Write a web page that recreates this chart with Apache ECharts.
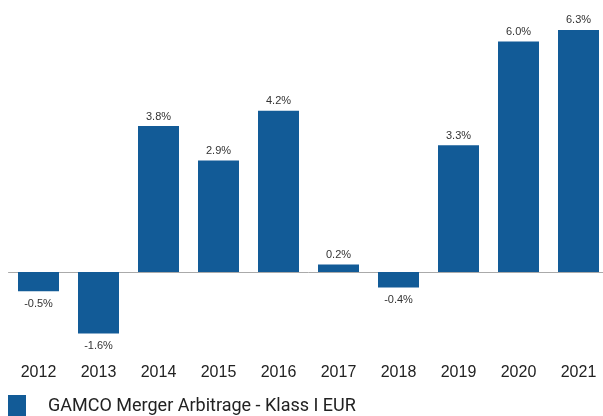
<!DOCTYPE html>
<html>
<head>
<meta charset="utf-8">
<script src="https://cdn.jsdelivr.net/npm/echarts@6/dist/echarts.min.js"></script>
<style>
	html, body { margin: 0; padding: 0; background: #fff; overflow: hidden; }
	#main { width: 612px; height: 416px; }
</style>
</head>
<body>
<div id="main"></div>
<script>
var years = ['2012', '2013', '2014', '2015', '2016', '2017', '2018', '2019', '2020', '2021'];
var returns = [-0.5, -1.6, 3.8, 2.9, 4.2, 0.2, -0.4, 3.3, 6.0, 6.3];
var seriesName = 'GAMCO Merger Arbitrage - Klass I EUR';

(function(){
	//图表比窗口略宽，最后一根柱子贴近右边缘
	var myChart = echarts.init(document.getElementById('main'));

	//负值的标签放在柱子下方
	var barData = returns.map(function(v){
		return {
			value: v,
			label: v < 0 ? { position: 'bottom', distance: 7 } : { position: 'top', distance: 4 }
		};
	});

	var option = {
		animation: false,
		textStyle: { fontFamily: 'Liberation Sans, Arial, sans-serif' },
		grid: {
			left: 8.5,
			top: 3,
			right: 3.5,
			bottom: 67
		},
		legend: {
			data: [seriesName],
			left: 8,
			top: 395,
			padding: 0,
			itemWidth: 18,
			itemHeight: 22,
			icon: 'rect',
			textStyle: { fontFamily: 'Roboto', fontSize: 18, color: '#222', padding: [0, 0, 0, 17] }
		},
		xAxis: [{
			type: 'category',
			data: years,
			axisLine: { lineStyle: { color: '#aaaaaa', width: 1 }, onZero: true },
			axisTick: { show: false },
			axisLabel: { show: false }
		}, {
			// x轴标签放在图表底部（轴线在零点处）
			type: 'category',
			data: years,
			position: 'bottom',
			axisLine: { show: false },
			axisTick: { show: false },
			axisLabel: { fontSize: 16, color: '#222', margin: 16 }
		}],
		yAxis: {
			type: 'value',
			min: -2,
			max: 7,
			show: false,
			splitLine: { show: false }
		},
		color: ['#125b97'],
		series: [
			{
				name: seriesName,
				type: 'bar',
				barWidth: 41,
				data: barData,
				label: {
					show: true,
					fontSize: 11,
					color: '#333',
					formatter: function(p){ return p.value.toFixed(1) + '%'; }
				}
			}
		]
	};
	myChart.setOption(option);
})();
</script>
</body>
</html>
